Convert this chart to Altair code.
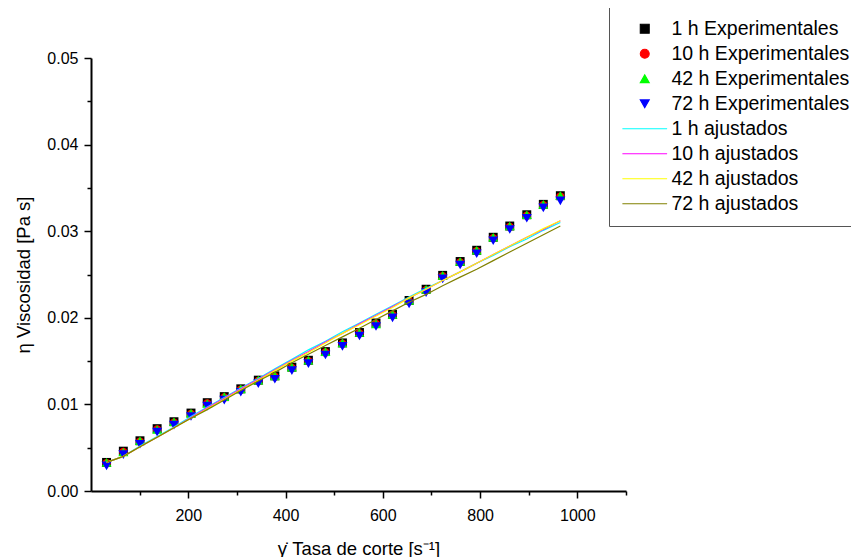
import altair as alt
import pandas as pd

# ---- data ----
shear_rate = [32, 66.5, 100.7, 136, 170.6, 205.6, 239, 274, 308, 344, 378, 413, 447, 482,
              517, 552, 586, 620, 654, 689, 723, 759, 793, 827, 861, 896, 930, 965]

exp_labels = ["1 h Experimentales", "10 h Experimentales", "42 h Experimentales", "72 h Experimentales"]
fit_labels = ["1 h ajustados", "10 h ajustados", "42 h ajustados", "72 h ajustados"]

exp_1h = [0.0033, 0.0046, 0.0058, 0.0072, 0.0080, 0.0090, 0.0102, 0.0109, 0.0118, 0.0128, 0.0133, 0.0143,
          0.0151, 0.0161, 0.0171, 0.0183, 0.0194, 0.0204, 0.0220, 0.0233, 0.0249, 0.0265, 0.0278, 0.0293,
          0.0306, 0.0319, 0.0331, 0.0341]
exp_10h = [0.0032, 0.0045, 0.0057, 0.0071, 0.0079, 0.0089, 0.0101, 0.0108, 0.0117, 0.0127, 0.0132, 0.0142,
           0.0150, 0.0160, 0.0170, 0.0182, 0.0193, 0.0203, 0.0219, 0.0232, 0.0248, 0.0264, 0.0277, 0.0292,
           0.0305, 0.0318, 0.0330, 0.0340]
exp_42h = [0.0033, 0.0045, 0.0058, 0.0071, 0.0080, 0.0090, 0.0101, 0.0109, 0.0118, 0.0128, 0.0133, 0.0143,
           0.0151, 0.0161, 0.0171, 0.0183, 0.0193, 0.0204, 0.0220, 0.0233, 0.0249, 0.0265, 0.0278, 0.0293,
           0.0306, 0.0319, 0.0331, 0.0341]
exp_72h = [0.0029, 0.0042, 0.0054, 0.0068, 0.0076, 0.0086, 0.0098, 0.0105, 0.0114, 0.0124, 0.0129, 0.0139,
           0.0147, 0.0157, 0.0167, 0.0179, 0.0190, 0.0200, 0.0216, 0.0229, 0.0245, 0.0261, 0.0274, 0.0289,
           0.0302, 0.0315, 0.0327, 0.0335]

fit_1h = [0.0033, 0.0040, 0.0052, 0.0063, 0.0074, 0.0086, 0.0097, 0.0108, 0.0119, 0.0130, 0.0141, 0.0152,
          0.0163, 0.0173, 0.0184, 0.0194, 0.0204, 0.0214, 0.0224, 0.0234, 0.0243, 0.0253, 0.0263, 0.0272,
          0.0282, 0.0291, 0.0301, 0.0310]
fit_10h = [0.0033, 0.0040, 0.0051, 0.0062, 0.0073, 0.0085, 0.0096, 0.0107, 0.0118, 0.0129, 0.0140, 0.0151,
           0.0161, 0.0172, 0.0182, 0.0193, 0.0203, 0.0213, 0.0223, 0.0233, 0.0243, 0.0253, 0.0263, 0.0273,
           0.0283, 0.0293, 0.0302, 0.0312]
fit_42h = [0.0033, 0.0040, 0.0051, 0.0062, 0.0073, 0.0084, 0.0095, 0.0106, 0.0117, 0.0128, 0.0139, 0.0150,
           0.0160, 0.0171, 0.0182, 0.0192, 0.0202, 0.0212, 0.0223, 0.0233, 0.0243, 0.0253, 0.0263, 0.0273,
           0.0283, 0.0293, 0.0303, 0.0312]
fit_72h = [0.0033, 0.0040, 0.0051, 0.0062, 0.0073, 0.0084, 0.0094, 0.0105, 0.0116, 0.0127, 0.0137, 0.0148,
           0.0158, 0.0168, 0.0178, 0.0188, 0.0198, 0.0208, 0.0218, 0.0227, 0.0237, 0.0247, 0.0256, 0.0266,
           0.0276, 0.0286, 0.0296, 0.0306]

x_tick_values = [100, 200, 300, 400, 500, 600, 700, 800, 900, 1000, 1100]
y_tick_values = [0.0, 0.005, 0.01, 0.015, 0.02, 0.025, 0.03, 0.035, 0.04, 0.045, 0.05]

point_colors = ["#000000", "#ff0000", "#00ff00", "#0000ff"]
line_colors = ["#00ffff", "#ff00ff", "#ffff00", "#808000"]
point_shapes = ["square", "circle", "triangle-up", "triangle-down"]
point_sizes = [80, 70, 100, 100]
legend_line_shape = "M-5,0L5,0"   # horizontal stroke used as legend symbol for fitted curves

# ---- tables ----
pts_rows = []
for lab, vals in zip(exp_labels, [exp_1h, exp_10h, exp_42h, exp_72h]):
    for xv, yv in zip(shear_rate, vals):
        pts_rows.append({"rate": xv, "visc": yv, "serie": lab})
pts = pd.DataFrame(pts_rows)

fit_rows = []
for lab, vals in zip(fit_labels, [fit_1h, fit_10h, fit_42h, fit_72h]):
    for xv, yv in zip(shear_rate, vals):
        fit_rows.append({"rate": xv, "visc": yv, "serie": lab})
fit = pd.DataFrame(fit_rows)

all_labels = exp_labels + fit_labels
color_scale = alt.Scale(domain=all_labels, range=point_colors + line_colors)
stroke_scale = alt.Scale(domain=all_labels, range=point_colors + line_colors)
shape_scale = alt.Scale(domain=all_labels, range=point_shapes + [legend_line_shape] * 4)

FONT = "Liberation Sans"

legend = alt.Legend(
    title=None, orient="none", legendX=518, legendY=-51, columns=1,
    rowPadding=4, padding=12, symbolSize=80, symbolOffset=14, labelOffset=17,
    labelFont=FONT, labelFontSize=19.5, labelColor="black", labelLimit=400,
    strokeColor="#555555", fillColor="white", symbolStrokeWidth=1.1,
)

x_axis = alt.Axis(
    values=x_tick_values, format="d",
    labelExpr="datum.value % 200 === 0 ? datum.label : ''",
    tickSize={"condition": {"test": "datum.value % 200 === 0", "value": 7}, "value": 4},
    grid=False, domainColor="black", domainWidth=2, tickColor="black", tickWidth=1.5,
    labelFont=FONT, labelFontSize=16, labelColor="black", labelPadding=9,
    labelFlush=False, labelOverlap=False,
    titleFont=FONT, titleFontSize=18.5, titleFontWeight="normal", titleColor="black",
    titlePadding=16,
)
y_axis = alt.Axis(
    values=y_tick_values,
    labelExpr="round(datum.value * 1000) % 10 === 0 ? format(datum.value, '.2f') : ''",
    tickSize={"condition": {"test": "round(datum.value * 1000) % 10 === 0", "value": 7}, "value": 4},
    grid=False, domainColor="black", domainWidth=2, tickColor="black", tickWidth=1.5,
    labelFont=FONT, labelFontSize=16, labelColor="black", labelPadding=6,
    labelFlush=False, labelOverlap=False,
    titleFont=FONT, titleFontSize=18.5, titleFontWeight="normal", titleColor="black",
    titlePadding=13,
)

x_enc = alt.X("rate:Q", scale=alt.Scale(domain=[0, 1100], nice=False, zero=False),
              axis=x_axis, title="γ̇ Tasa de corte [s⁻¹]")
y_enc = alt.Y("visc:Q", scale=alt.Scale(domain=[0, 0.05], nice=False),
              axis=y_axis, title="η Viscosidad [Pa s]")

point_layers = []
for lab, sz in zip(exp_labels, point_sizes):
    point_layers.append(
        alt.Chart(pts).transform_filter(alt.datum.serie == lab)
        .mark_point(filled=True, opacity=1, strokeWidth=0, size=sz)
        .encode(
            x=x_enc, y=y_enc,
            color=alt.Color("serie:N", scale=color_scale, legend=legend),
            stroke=alt.Stroke("serie:N", scale=stroke_scale, legend=legend),
            shape=alt.Shape("serie:N", scale=shape_scale, legend=legend),
        )
    )

lines = alt.Chart(fit).mark_line(strokeWidth=1.2).encode(
    x=x_enc, y=y_enc,
    stroke=alt.Stroke("serie:N", scale=stroke_scale, legend=legend),
)

chart = alt.layer(*point_layers, lines).properties(
    width=535, height=433,
    autosize=alt.AutoSizeParams(type="none"),
    padding={"left": 83, "top": 50, "right": 225, "bottom": 66},
    background="white",
).configure_view(stroke=None)

chart.save("out.html", embed_options={"renderer": "svg", "actions": False})
